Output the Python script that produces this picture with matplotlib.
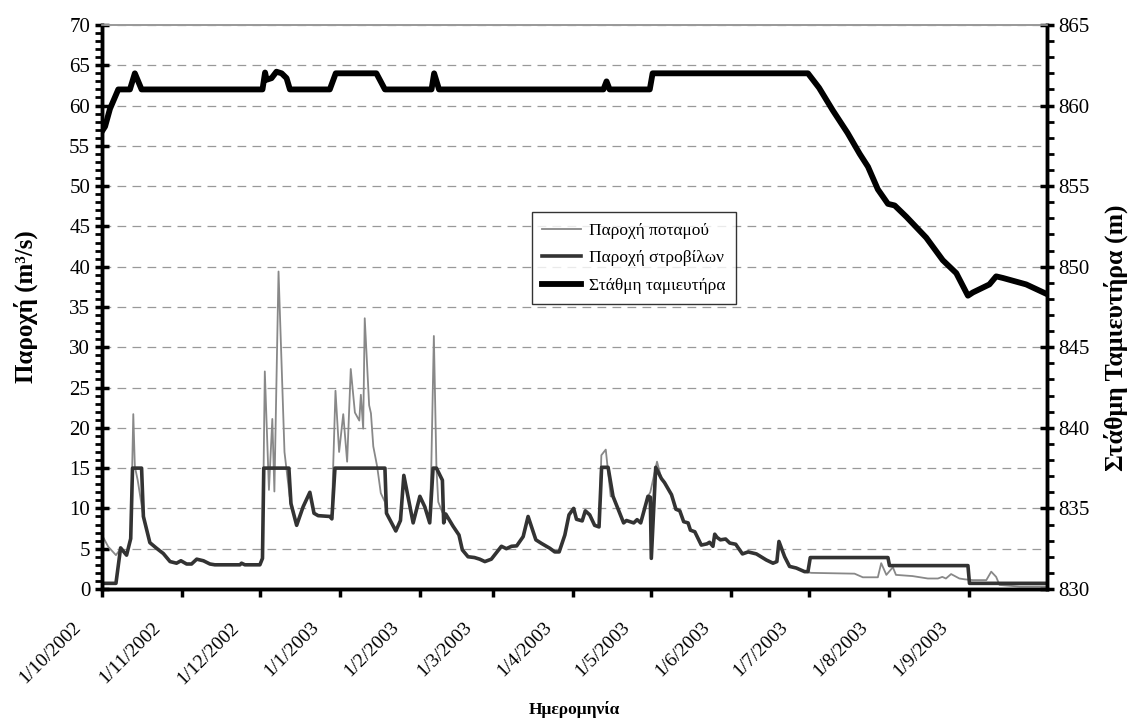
import datetime as dt
import numpy as np
import matplotlib
matplotlib.use("Agg")
import matplotlib.pyplot as plt
import matplotlib.dates as mdates
import matplotlib.transforms as mtrans
from matplotlib.ticker import MultipleLocator, FuncFormatter, FixedLocator

plt.rcParams['font.family'] = ['Liberation Serif', 'DejaVu Serif']

# days after 1/10/2002 and values
turb_days = [0, 5.4, 7.2, 9.5, 11.1, 11.8, 15.3, 16, 18.5, 21.1, 23.7, 26.3, 28.8, 30.5, 32.7, 34.6,
             36.6, 39.2, 41.7, 43.6, 53.3, 53.9, 55.2, 61, 62, 62.5, 72.2, 73, 75.2, 77.7, 80.3, 81.9,
             83.5, 88, 88.8, 90, 109.3, 109.9, 113.5, 115.3, 116.6, 120.2, 122.8, 124.7, 126.6, 127.9,
             129.2, 131.5, 132, 132.8, 135.6, 137.9, 139.2, 141.4, 143.9, 145.9, 147.9, 150.4, 154.3,
             156.2, 158.2, 160.2, 162.7, 164.6, 167.6, 169.8, 173, 174.9, 176.6, 178.8, 180.4, 182.2,
             183.3, 185.5, 186.7, 188.4, 190.3, 192, 193, 195.5, 197.4, 201.5, 202.6, 205.4, 206.7,
             208.1, 210.9, 211.8, 212.2, 213.9, 216.1, 217.3, 220, 221.7, 223.2, 224.7, 226.4, 227.3,
             229, 231.5, 233.7, 234.7, 236, 236.7, 237.6, 238.9, 240.9, 242.5, 244.8, 247.4, 249.6,
             252.8, 256.6, 259.2, 260.7, 261.5, 263.7, 265.6, 268.2, 271.4, 272.7, 273.6, 303.6,
             304.2, 334.5, 335.1, 365]
turb_vals = [0.7, 0.7, 5.1, 4.2, 6.25, 15, 15, 9.0, 5.75, 5.05, 4.4, 3.4, 3.2, 3.5, 3.1, 3.1,
             3.7, 3.5, 3.1, 3.0, 3.0, 3.2, 3.0, 3.0, 3.8, 15, 15, 10.6, 7.9, 10.2, 12.0, 9.4,
             9.1, 9.0, 8.7, 15, 15, 9.4, 7.2, 8.5, 14.1, 8.2, 11.5, 10.2, 8.2, 15,
             15, 13.5, 8.2, 9.3, 7.8, 6.7, 4.85, 4.0, 3.9, 3.7, 3.4, 3.7, 5.3,
             5.0, 5.3, 5.35, 6.5, 9.0, 6.1, 5.65, 5.05, 4.6, 4.6, 6.7, 9.2, 10.0,
             8.65, 8.45, 9.7, 9.2, 7.9, 7.7, 15.1, 15.1, 11.5, 8.2, 8.5, 8.2, 8.6,
             8.2, 11.5, 11.4, 3.8, 15.1, 13.7, 13.2, 11.7, 9.9, 9.7, 8.35, 8.2, 7.3,
             7.1, 5.45, 5.6, 5.8, 5.3, 6.8, 6.4, 6.1, 6.2, 5.7, 5.55, 4.35, 4.6,
             4.35, 3.6, 3.2, 3.4, 5.9, 4.0, 2.8, 2.6, 2.15, 2.15, 3.9, 3.9,
             2.9, 2.9, 0.7, 0.7]

river_days = [0, 2.4, 5.4, 7.2, 9.5, 11.1, 12.1, 12.7, 13.8, 16, 18.5, 21.1, 23.7, 26.3, 28.8, 30.5,
              32.7, 34.6, 36.6, 39.2, 41.7, 43.6, 53.3, 53.9, 55.2, 61, 62, 62.9, 64.5, 65.8, 66.6,
              68.2, 70.5, 72.5, 74, 75.2, 77.7, 80.3, 81.9, 83.5, 88, 88.8, 89.3, 90.2, 91.6, 93.2,
              94.7, 96.1, 97.7, 99.4, 100, 100.9, 101.5, 103.2, 103.9, 104.8, 106.3, 107.7, 109.3,
              109.9, 113.5, 115.3, 116.6, 120.2, 122.8, 124.7, 126.6, 127.2, 128.2, 129.2, 129.9,
              131.5, 132.8, 135.6, 137.9, 139.2, 141.4, 143.9, 145.9, 147.9, 150.4, 154.3, 156.2,
              158.2, 160.2, 162.7, 164.6, 167.6, 169.8, 173, 174.9, 176.6, 178.8, 180.4, 182.2,
              183.3, 185.5, 186.7, 188.4, 190.3, 192, 192.9, 194.6, 196.5, 197.4, 201.5, 202.6,
              205.4, 206.7, 208.1, 210.9, 211.8, 214.4, 216.1, 217.3, 220, 221.7, 223.2, 224.7,
              226.4, 227.3, 229, 231.5, 233.7, 234.7, 236, 236.7, 237.6, 238.9, 240.9, 242.5,
              244.8, 247.4, 249.6, 252.8, 256.6, 259.2, 260.7, 261.5, 263.7, 265.6, 268.2, 271.4,
              274, 290.7, 293.9, 299.7, 301, 303, 305.5, 306.7, 313.1, 319, 322.9, 324.6, 326,
              328, 331.2, 333.2, 336.4, 341.6, 343.5, 345.4, 346.7, 354.4, 365]
river_vals = [6.7, 5.25, 4.2, 5.0, 4.2, 6.25, 21.7, 15.2, 13.5, 9.0, 5.75, 5.05, 4.4, 3.4, 3.2, 3.5,
              3.1, 3.1, 3.7, 3.5, 3.1, 3.0, 3.0, 3.2, 3.0, 3.0, 3.8, 27.0, 12.3, 21.1, 12.1,
              39.4, 17, 11.5, 9.5, 7.9, 10.2, 12.0, 9.4, 9.1, 9.0, 8.7, 15.1, 24.6, 17.0, 21.7,
              15.8, 27.3, 21.9, 20.9, 24.1, 19.9, 33.6, 22.8, 21.8, 17.7, 15.2, 11.9, 10.8,
              9.4, 7.2, 8.5, 14.1, 8.2, 11.5, 10.2, 8.2, 15, 31.4, 15, 10.8,
              9.5, 9.3, 7.8, 6.7, 4.85, 4.0, 3.9, 3.7, 3.4, 3.7, 5.3, 5.0,
              5.3, 5.35, 6.5, 9.0, 6.1, 5.65, 5.05, 4.6, 4.6, 6.7, 9.2, 10.0,
              8.65, 8.45, 9.7, 9.2, 7.9, 7.7, 16.6, 17.3, 11.5, 11.5, 8.2, 8.5,
              8.2, 8.6, 8.2, 11.5, 12.0, 15.8, 13.7, 13.2, 11.7, 9.9, 9.7, 8.35,
              8.2, 7.3, 7.1, 5.45, 5.6, 5.8, 5.3, 6.8, 6.4, 6.1, 6.2, 5.7,
              5.55, 4.35, 4.6, 4.35, 3.6, 3.2, 3.4, 5.9, 4.0, 2.8, 2.6, 2.15,
              2.0, 1.9, 1.45, 1.45, 3.2, 1.75, 2.7, 1.75, 1.6, 1.3, 1.3, 1.5, 1.3,
              1.85, 1.3, 1.2, 1.1, 1.1, 2.15, 1.5, 0.5, 0.3, 0.3]

level_days = [0, 1.2, 3.1, 6.3, 10.8, 12.7, 15.3, 62, 63, 63.6, 65.5, 67.4, 69.4, 71.3, 72.6,
              88, 90.3, 106, 109.3, 127.3, 128.3, 130.2, 193.7, 194.9, 196.1, 211.6, 212.7,
              272.7, 277, 282.3, 288, 292.7, 295.9, 299.7, 303.6, 306.2, 310.7, 318.4, 324.8,
              330, 334.5, 336.4, 339.6, 342.8, 345.4, 348, 357, 365]
level_vals = [858.4, 858.7, 859.8, 861, 861, 862, 861, 861, 862.05, 861.6, 861.7, 862.1, 862, 861.7, 861,
              861, 862, 862, 861, 861, 862, 861, 861, 861.5, 861, 861, 862,
              862, 861.1, 859.7, 858.3, 857.0, 856.2, 854.8, 853.9, 853.8, 853.1, 851.8, 850.4,
              849.6, 848.2, 848.4, 848.65, 848.9, 849.4, 849.3, 848.9, 848.3]

month_ticks = [dt.datetime(2002, m, 1) for m in (10, 11, 12)] + \
              [dt.datetime(2003, m, 1) for m in range(1, 10)]

start = mdates.date2num(dt.datetime(2002, 10, 1))
end = mdates.date2num(dt.datetime(2003, 10, 1))

fig = plt.figure(figsize=(11.33, 7.24), dpi=100)
ax = fig.add_axes([0.090, 0.1865, 0.834, 0.779])
ax2 = ax.twinx()

l1, = ax.plot(start + np.array(river_days), river_vals, color='#888888', lw=1.3,
              label='Παροχή ποταμού')
l2, = ax.plot(start + np.array(turb_days), turb_vals, color='#333333', lw=2.6,
              label='Παροχή στροβίλων')
l3, = ax2.plot(start + np.array(level_days), level_vals, color='black', lw=4.2,
               solid_joinstyle='round', label='Στάθμη ταμιευτήρα')

ax.set_xlim(start, end)
ax.set_ylim(0, 70)
ax2.set_ylim(830, 865)

ax.yaxis.set_major_locator(MultipleLocator(5))
ax.yaxis.set_minor_locator(MultipleLocator(1))
ax2.yaxis.set_major_locator(MultipleLocator(5))
ax2.yaxis.set_minor_locator(MultipleLocator(1))
ax.grid(axis='y', color='#999999', ls=(0, (7, 5)), lw=0.9)

ax.xaxis.set_major_locator(FixedLocator(mdates.date2num(month_ticks)))
ax.xaxis.set_major_formatter(FuncFormatter(
    lambda v, p: '{0}/{1}/{2}'.format(mdates.num2date(v).day, mdates.num2date(v).month,
                                      mdates.num2date(v).year)))
ax.tick_params(axis='x', which='major', direction='out', length=6, width=2.5, labelsize=14,
               labelrotation=45, pad=2)
shift = mtrans.ScaledTranslation(-0.24, -0.25, fig.dpi_scale_trans)
for lab in ax.get_xticklabels():
    lab.set_ha('right')
    lab.set_va('center')
    lab.set_rotation_mode('anchor')
    lab.set_transform(lab.get_transform() + shift)
ax.tick_params(axis='y', which='major', direction='inout', length=10, width=2.5, labelsize=15)
ax.tick_params(axis='y', which='minor', direction='out', length=5, width=2)
ax2.tick_params(axis='y', which='major', direction='inout', length=10, width=2.5, labelsize=15)
ax2.tick_params(axis='y', which='minor', direction='out', length=5, width=2)

for a in (ax, ax2):
    a.spines['top'].set_color('#999999')
    a.spines['top'].set_linewidth(1.2)
    a.spines['left'].set_linewidth(2.5)
    a.spines['right'].set_linewidth(2.5)
    a.spines['bottom'].set_linewidth(2.5)

ax.set_ylabel('Παροχή (m³/s)', fontsize=18, fontweight='bold')
ax.yaxis.set_label_coords(-0.068, 0.5)
ax2.set_ylabel('Στάθμη Ταμιευτήρα (m)', fontsize=18.5, fontweight='bold')
ax2.yaxis.set_label_coords(1.06, 0.445)
ax.set_xlabel('Ημερομηνία', fontsize=12.5, fontweight='bold')
ax.xaxis.set_label_coords(0.5, -0.198)

leg = ax.legend(handles=[l1, l2, l3], loc='upper left', bbox_to_anchor=(0.455, 0.668),
                borderaxespad=0, fontsize=12.5, frameon=True, fancybox=False,
                edgecolor='black', handlelength=2.2, handletextpad=0.5, borderpad=0.6,
                labelspacing=0.65)
leg.get_frame().set_linewidth(1.0)

fig.savefig('out.png', dpi=100)
